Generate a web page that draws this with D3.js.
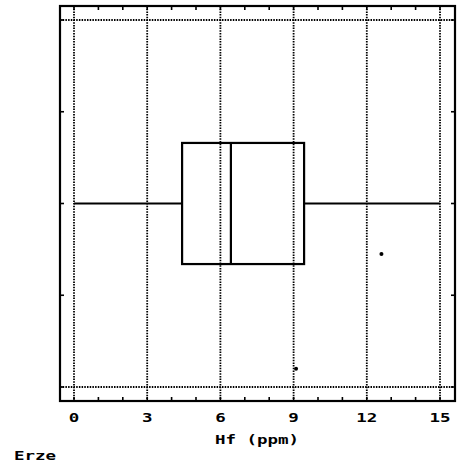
<!DOCTYPE html>
<html>
<head>
<meta charset="utf-8">
<script src="https://cdn.jsdelivr.net/npm/d3@7"></script>
<style>
  body { margin: 0; background: #fff; }
  text { font-family: "DejaVu Sans Mono", monospace; font-weight: bold; fill: #000; }
</style>
</head>
<body>
<div class="chart"></div>
<script>
// box plot of Hf (ppm) for "Erze"
var xTicks = [0, 3, 6, 9, 12, 15];
var xMinor = [0, 1, 2, 3, 4, 5, 6, 7, 8, 9, 10, 11, 12, 13, 14, 15];
var yTicks = [0, 1, 2, 3, 4];
var boxStats = [0, 4.43, 6.43, 9.43, 15]; // min, q1, median, q3, max
var boxCenter = [2];
var boxHalf = [0.66];
var specksX = [12.6, 9.1];
var specksY = [1.45, 0.2];

var width = 458, height = 464;
var svg = d3.select(".chart").append("svg")
    .attr("width", width)
    .attr("height", height);

var x = d3.scaleLinear().domain([0, 15]).range([74, 440]);
var y = d3.scaleLinear().domain([0, 4]).range([387, 20]);

var frame = {left: 60, right: 455, top: 6, bottom: 401};

// wide, chunky plotter lettering
function label(px, py, str, anchor) {
    svg.append("text")
        .attr("transform", "translate(" + px + "," + py + ") scale(1.4,1)")
        .attr("text-anchor", anchor)
        .attr("font-size", 12.5)
        .text(str);
}

// dotted grid
svg.selectAll(".vgrid")
    .data(xTicks)
    .enter()
    .append("line")
    .attr("x1", function (d) { return x(d); })
    .attr("x2", function (d) { return x(d); })
    .attr("y1", frame.top)
    .attr("y2", frame.bottom)
    .attr("stroke", "#000")
    .attr("stroke-width", 1.8)
    .attr("stroke-dasharray", "1.5,1.2");

svg.selectAll(".hgrid")
    .data([yTicks[0], yTicks[yTicks.length - 1]])
    .enter()
    .append("line")
    .attr("x1", frame.left)
    .attr("x2", frame.right)
    .attr("y1", function (d) { return y(d); })
    .attr("y2", function (d) { return y(d); })
    .attr("stroke", "#000")
    .attr("stroke-width", 1.8)
    .attr("stroke-dasharray", "1.5,1.2");

// frame
svg.append("rect")
    .attr("x", frame.left)
    .attr("y", frame.top)
    .attr("width", frame.right - frame.left)
    .attr("height", frame.bottom - frame.top)
    .attr("fill", "none")
    .attr("stroke", "#000")
    .attr("stroke-width", 2.2);

// minor ticks top + bottom
svg.selectAll(".tb")
    .data(xMinor)
    .enter()
    .append("line")
    .attr("x1", function (d) { return x(d); })
    .attr("x2", function (d) { return x(d); })
    .attr("y1", frame.top)
    .attr("y2", frame.top + 4)
    .attr("stroke", "#000")
    .attr("stroke-width", 1.6);

svg.selectAll(".bb")
    .data(xMinor)
    .enter()
    .append("line")
    .attr("x1", function (d) { return x(d); })
    .attr("x2", function (d) { return x(d); })
    .attr("y1", frame.bottom)
    .attr("y2", frame.bottom - 4)
    .attr("stroke", "#000")
    .attr("stroke-width", 1.6);

// y ticks left + right
[frame.left, frame.right].forEach(function (fx, k) {
    svg.selectAll(".yt" + k)
        .data(yTicks)
        .enter()
        .append("line")
        .attr("x1", fx)
        .attr("x2", k === 0 ? fx + 4 : fx - 4)
        .attr("y1", function (d) { return y(d); })
        .attr("y2", function (d) { return y(d); })
        .attr("stroke", "#000")
        .attr("stroke-width", 1.6);
});

// x tick labels
xTicks.forEach(function (d) {
    label(x(d), 422, d, "middle");
});
label(257, 444, "Hf (ppm)", "middle");
label(14, 460, "Erze", "start");

// whisker
var c = boxCenter[0], h = boxHalf[0];
svg.append("line")
    .attr("x1", x(boxStats[0]))
    .attr("x2", x(boxStats[1]))
    .attr("y1", y(c))
    .attr("y2", y(c))
    .attr("stroke", "#000")
    .attr("stroke-width", 2.2);
svg.append("line")
    .attr("x1", x(boxStats[3]))
    .attr("x2", x(boxStats[4]))
    .attr("y1", y(c))
    .attr("y2", y(c))
    .attr("stroke", "#000")
    .attr("stroke-width", 2.2);

// box
svg.append("rect")
    .attr("x", x(boxStats[1]))
    .attr("y", y(c + h))
    .attr("width", x(boxStats[3]) - x(boxStats[1]))
    .attr("height", y(c - h) - y(c + h))
    .attr("fill", "none")
    .attr("stroke", "#000")
    .attr("stroke-width", 2.2);

svg.append("line")
    .attr("x1", x(boxStats[2]))
    .attr("x2", x(boxStats[2]))
    .attr("y1", y(c + h))
    .attr("y2", y(c - h))
    .attr("stroke", "#000")
    .attr("stroke-width", 2.2);

// stray specks in the scan
svg.selectAll(".speck")
    .data(specksX)
    .enter()
    .append("circle")
    .attr("cx", function (d) { return x(d); })
    .attr("cy", function (d, i) { return y(specksY[i]); })
    .attr("r", 2)
    .attr("fill", "#000");
</script>
</body>
</html>
